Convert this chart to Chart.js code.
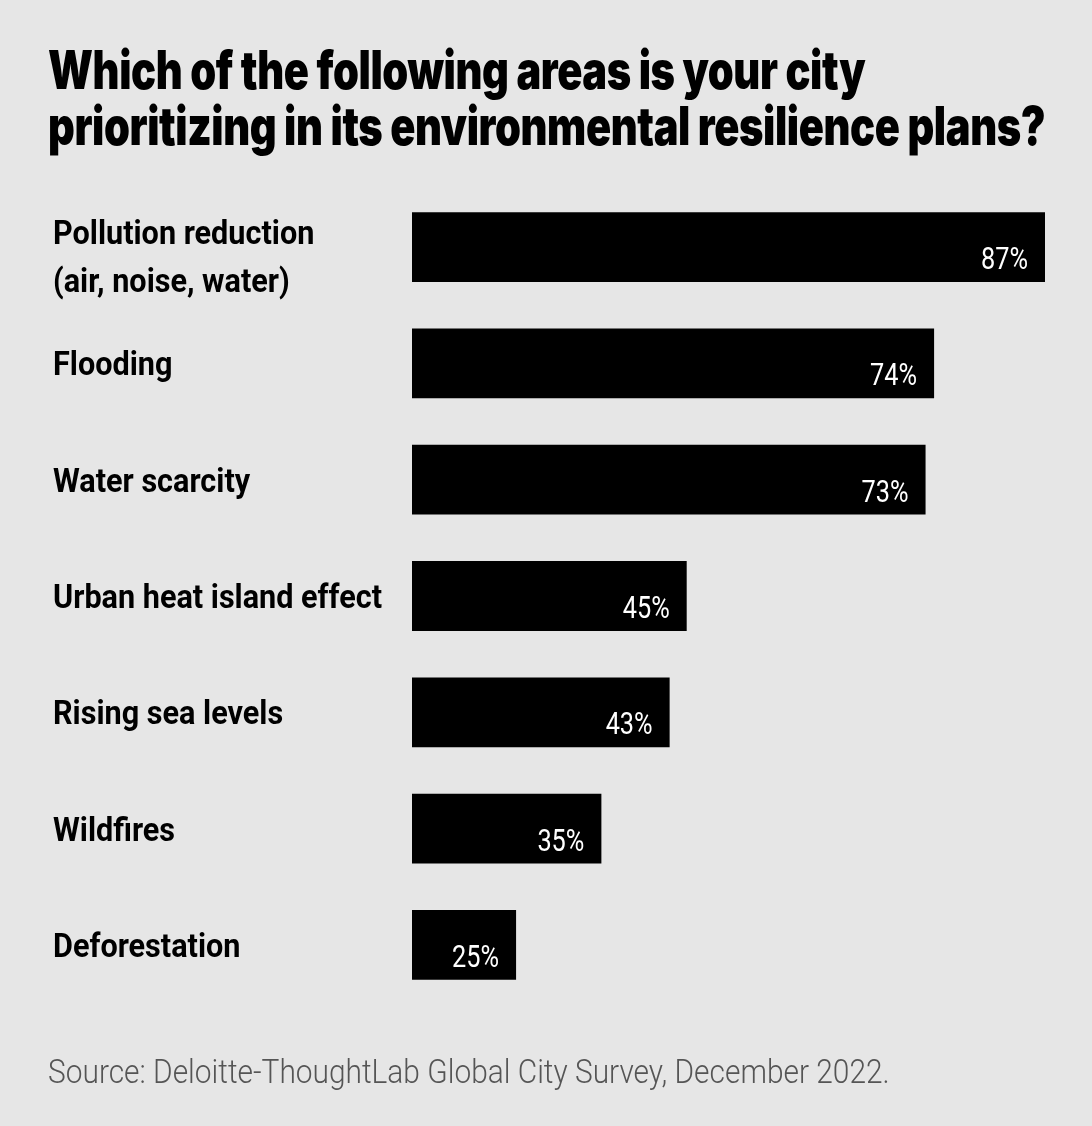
<!DOCTYPE html>
<html>
<head>
<meta charset="utf-8">
<script src="https://cdn.jsdelivr.net/npm/chart.js@4.4.0/dist/chart.umd.min.js"></script>
<style>
  html, body { margin: 0; padding: 0; background: #e6e6e6; }
  #wrap { position: relative; width: 1092px; height: 1126px; overflow: hidden; }
  #title {
    position: absolute; left: 48px; top: 42px; margin: 0;
    font-family: Inter, Roboto, sans-serif;
    font-weight: 900; font-size: 53px; line-height: 56px; color: #000;
    letter-spacing: -0.5px;
  }
  #title span, #source span { display: inline-block; white-space: nowrap; transform-origin: 0 0; }
  #source {
    position: absolute; left: 48px; top: 1051px; margin: 0;
    font-family: Roboto, sans-serif; font-weight: 300;
    font-size: 34px; line-height: 40px; color: #555;
  }
  #chart { position: absolute; left: 0; top: 0; }
</style>
</head>
<body>
<div id="wrap">
  <canvas id="chart" width="1092" height="1126"></canvas>
  <h1 id="title"><span id="t1">Which of the following areas is your city</span><br><span id="t2">prioritizing in its environmental resilience plans?</span></h1>
  <p id="source"><span id="s1">Source: Deloitte-ThoughtLab Global City Survey, December 2022.</span></p>
</div>
<script>
  // Categorias e valores (% de cidades)
  const categories = [
    ["Pollution reduction", "(air, noise, water)"],
    "Flooding",
    "Water scarcity",
    "Urban heat island effect",
    "Rising sea levels",
    "Wildfires",
    "Deforestation",
  ];
  const values = [87, 74, 73, 45, 43, 35, 25];
  const valueLabels = ["87%", "74%", "73%", "45%", "43%", "35%", "25%"];

  // comprime o texto na horizontal para imitar a fonte condensada
  function squeeze(id, targetWidth) {
    const el = document.getElementById(id);
    const k = targetWidth / el.offsetWidth;
    el.style.transform = "scaleX(" + k + ")";
    return k;
  }
  const kTitle = squeeze("t2", 997);
  document.getElementById("t1").style.transform = "scaleX(" + kTitle + ")";
  squeeze("s1", 842);

  const labelFont = "bold 34px Roboto, sans-serif";
  const valueFont = "32px Roboto, sans-serif";

  // rótulos das categorias, desenhados à esquerda
  const categoryLabelPlugin = {
    id: "categoryLabels",
    afterDraw(chart) {
      const ctx = chart.ctx;
      const yScale = chart.scales.y;
      ctx.save();
      ctx.font = labelFont;
      const k = 329 / ctx.measureText("Urban heat island effect").width;
      ctx.fillStyle = "#000";
      ctx.textAlign = "left";
      ctx.textBaseline = "alphabetic";
      chart.data.labels.forEach((lab, i) => {
        const lines = Array.isArray(lab) ? lab : [lab];
        const cy = yScale.getPixelForTick(i);
        lines.forEach((line, j) => {
          const by = cy + 12 - (lines.length - 1) * 15 + j * 48;
          ctx.save();
          ctx.translate(53, by);
          ctx.scale(k, 1);
          ctx.fillText(line, 0, 0);
          ctx.restore();
        });
      });
      ctx.restore();
    },
  };

  // escreve o valor dentro da barra, canto inferior direito
  const valueLabelPlugin = {
    id: "valueLabels",
    afterDatasetsDraw(chart) {
      const ctx = chart.ctx;
      const meta = chart.getDatasetMeta(0);
      ctx.save();
      ctx.fillStyle = "#ffffff";
      ctx.font = valueFont;
      const k = 47 / ctx.measureText("87%").width;
      ctx.textAlign = "right";
      ctx.textBaseline = "alphabetic";
      meta.data.forEach((bar, i) => {
        ctx.save();
        ctx.translate(bar.x - 17, bar.y + 22);
        ctx.scale(k, 1);
        ctx.fillText(valueLabels[i], 0, 0);
        ctx.restore();
      });
      ctx.restore();
    },
  };

  new Chart(document.getElementById("chart").getContext("2d"), {
    type: "bar",
    data: {
      labels: categories,
      datasets: [
        {
          data: values,
          backgroundColor: "#000000",
          borderWidth: 0,
          barPercentage: 0.6,
          categoryPercentage: 1,
        },
      ],
    },
    options: {
      indexAxis: "y",
      responsive: false,
      animation: false,
      layout: { padding: { left: 53, right: 47, top: 189, bottom: 123 } },
      plugins: {
        legend: { display: false },
        tooltip: { enabled: false },
      },
      scales: {
        x: {
          display: false,
          min: 12.8,
          max: 87,
          grid: { display: false },
        },
        y: {
          grid: { display: false },
          border: { display: false },
          ticks: { display: false },
          afterFit(scale) {
            scale.width = 359;
          },
        },
      },
    },
    plugins: [valueLabelPlugin, categoryLabelPlugin],
  });
</script>
</body>
</html>
